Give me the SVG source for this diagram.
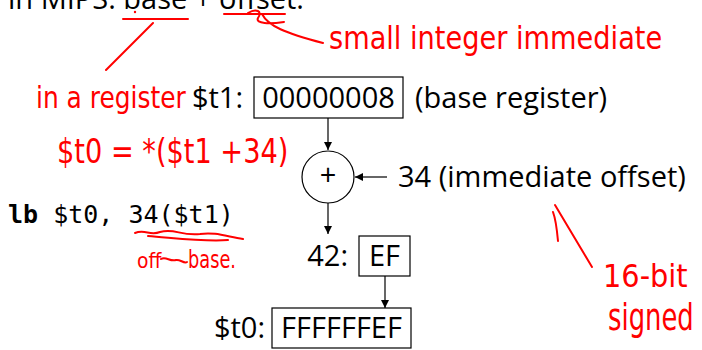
<svg xmlns="http://www.w3.org/2000/svg" width="702" height="350" viewBox="0 0 702 350">
<defs>
<style>
.t{font-family:"Open Sans","Noto Sans",sans-serif;font-size:29px;fill:#000}
.m{font-family:"DejaVu Sans Mono","Liberation Mono",monospace;font-size:25px;fill:#000}
.box{fill:#fff;stroke:#000;stroke-width:1.2}
.ln{stroke:#000;stroke-width:1.2;fill:none}
.hw{font-family:"DejaVu Sans","Liberation Sans",sans-serif;fill:#f00}
.rs{stroke:#f00;stroke-width:2;fill:none;stroke-linecap:round;stroke-linejoin:round}
</style>
<marker id="ah" viewBox="0 0 10 10" refX="10" refY="5" markerWidth="8" markerHeight="8" markerUnits="userSpaceOnUse" orient="auto">
<path d="M0,0 L10,5 L0,10 z" fill="#000"/>
</marker>
</defs>
<rect width="702" height="350" fill="#fff"/>
<text class="t" x="8" y="9" font-size="28">in MIPS: base + offset.</text>
<g id="connectors">
<line class="ln" x1="328" y1="118" x2="328" y2="150" marker-end="url(#ah)"/>
<line class="ln" x1="387" y1="177" x2="355" y2="177" marker-end="url(#ah)"/>
<line class="ln" x1="328" y1="203" x2="328" y2="234" marker-end="url(#ah)"/>
<line class="ln" x1="385" y1="276" x2="385" y2="308" marker-end="url(#ah)"/>
</g>
<g id="t1">
<text class="t" x="243" y="108" text-anchor="end">$t1:</text>
<rect class="box" x="254" y="77" width="149" height="41"/>
<text class="t" x="328.5" y="108" text-anchor="middle">00000008</text>
<text class="t" x="415" y="108">(base register)</text>
</g>
<g id="adder">
<circle class="box" cx="328" cy="177" r="26"/>
<text class="t" x="328" y="185" text-anchor="middle" font-size="22">+</text>
</g>
<g id="imm">
<text class="t" x="398" y="187">34 (immediate offset)</text>
</g>
<g id="mem">
<text class="t" x="348" y="266" text-anchor="end">42:</text>
<rect class="box" x="359" y="236" width="51" height="40"/>
<text class="t" x="384.5" y="266" text-anchor="middle">EF</text>
</g>
<g id="t0">
<text class="t" x="265" y="338" text-anchor="end">$t0:</text>
<rect class="box" x="272" y="308" width="139" height="40"/>
<text class="t" x="341.5" y="338" text-anchor="middle">FFFFFFEF</text>
</g>
<g id="instr">
<text class="m" x="8" y="223"><tspan font-weight="bold">lb</tspan> $t0, 34($t1)</text>
</g>
<g id="annotations">
<path class="rs" d="M123,19 L188,19 M224,14 L285,14 M153,23 L106,70"/>
<path class="rs" d="M248,13 C256,8 263,11 258,18 C255,24 270,24 284,22 M262,14 C268,26 285,33 323,43"/>
<circle cx="135" cy="12" r="1.2" fill="#f00"/>
<text class="hw" transform="translate(36,108) scale(0.83,1)" font-size="30">in a register</text>
<text class="hw" transform="translate(57,163) scale(0.8,1)" font-size="34">$t0 = *($t1 +34)</text>
<text class="hw" transform="translate(329,49) scale(0.85,1)" font-size="32">small integer immediate</text>
<path class="rs" d="M135,233 C145,229 150,236 160,232 C175,228 180,236 200,234 C215,232 225,236 243,239 M148,236 C175,238 205,242 228,240"/>
<text class="hw" transform="translate(137,268) scale(0.85,1)" font-size="22">off</text>
<path class="rs" d="M161,259 C166,256 170,262 176,260 C180,259 184,264 187,262"/>
<text class="hw" transform="translate(188,268) scale(0.74,1)" font-size="24">base.</text>
<path class="rs" d="M555,205 L592,267 M553,212 C556,220 557,230 558,241"/>
<text class="hw" transform="translate(603,287) scale(0.9,1)" font-size="32">16-bit</text>
<text class="hw" transform="translate(608,330) scale(0.68,1)" font-size="38">signed</text>
</g>
</svg>
